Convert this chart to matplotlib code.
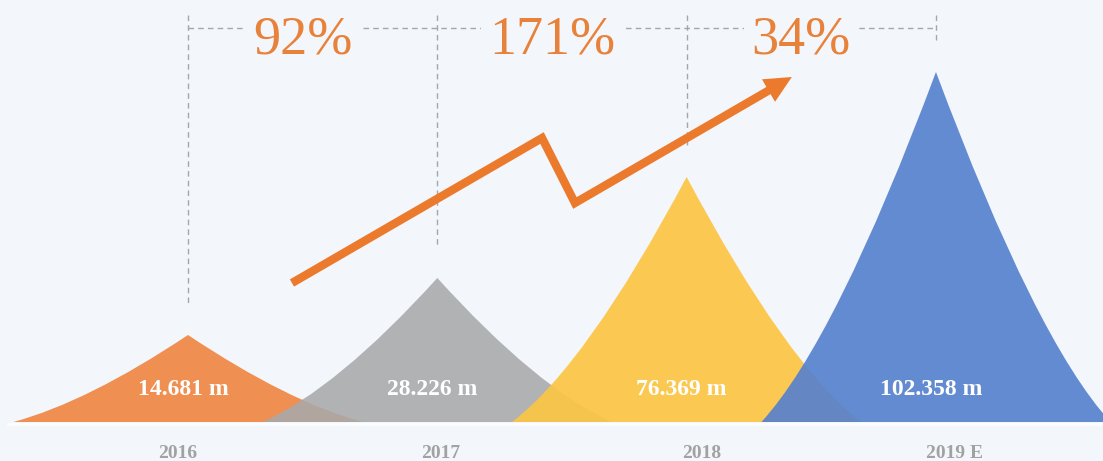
import matplotlib.pyplot as plt
from matplotlib.path import Path
from matplotlib.patches import PathPatch, Polygon
import numpy as np

# datos
years = ['2016', '2017', '2018', '2019 E']
values = [14.681, 28.226, 76.369, 102.358]
# alturas de los picos tal como se ven en el dibujo (no proporcionales)
peak_height = [87, 144, 245, 350]
colors = ['#EF8F52', '#A8A9AB', '#FCC643', '#5782CE']
alphas = [1.0, 0.88, 0.92, 0.92]

bg = '#F3F6FB'
orange_txt = '#E8823A'
orange_arrow = '#EC7A2C'
dash_col = '#A3A7AD'

fig = plt.figure(figsize=(11.03, 4.61), dpi=100)
fig.patch.set_facecolor(bg)
ax = fig.add_axes([0, 0, 1, 1])
ax.set_facecolor(bg)
ax.set_xlim(-0.754, 3.670)
ax.set_ylim(-39, 422)
ax.axis('off')

x = np.arange(len(years))
w = 0.70  # media anchura del pico

# picos con lados curvos (bezier cuadratica)
for i in range(len(years)):
    h = peak_height[i]
    cx, cy = 0.573 * w, 0.233 * h
    verts = [(x[i] - w, 0), (x[i] - cx, cy), (x[i], h),
             (x[i] + cx, cy), (x[i] + w, 0), (x[i] - w, 0)]
    codes = [Path.MOVETO, Path.CURVE3, Path.CURVE3,
             Path.CURVE3, Path.CURVE3, Path.CLOSEPOLY]
    ax.add_patch(PathPatch(Path(verts, codes), facecolor=colors[i],
                           edgecolor='none', alpha=alphas[i], zorder=2 + i))
    ax.text(x[i] - 0.02, 33, f'{values[i]} m', ha='center', va='center',
            color='white', fontsize=17, fontweight='bold',
            family='Liberation Serif', zorder=10)

# linea base clara
ax.plot([-0.72, 3.7], [-2, -2], color='white', lw=2, alpha=0.8, zorder=1)

# etiquetas de años
year_dx = [-0.04, 0.015, 0.06, 0.075]
for i in range(len(years)):
    ax.text(x[i] + year_dx[i], -31, years[i], ha='center', va='center',
            color='#A2A2A2', fontsize=14, fontweight='bold',
            family='Liberation Serif')

# lineas discontinuas
top_y = 394
for i in range(len(years)):
    ax.plot([x[i], x[i]], [407, peak_height[i] + 32], color=dash_col,
            lw=1, ls=(0, (4, 3)), zorder=1)
ax.plot([x[0], x[-1]], [top_y, top_y], color=dash_col, lw=1,
        ls=(0, (4, 3)), zorder=1)

# crecimiento interanual
for i in range(1, len(values)):
    pct = (values[i] / values[i - 1] - 1) * 100
    ax.text(x[i] - 0.54, 382, f'{pct:.0f}%', ha='center', va='center',
            color=orange_txt, fontsize=39, family='Liberation Serif',
            bbox=dict(boxstyle='square,pad=0.15', fc=bg, ec='none'),
            zorder=5)

# flecha en zigzag
arrow_x = [0.417, 1.420, 1.552, 2.422]
arrow_y = [139, 284, 219, 345]
disp = ax.transData.transform(np.column_stack([arrow_x, arrow_y]))
tip = disp[-1]
d = tip - disp[-2]
u = d / np.hypot(*d)
n = np.array([-u[1], u[0]])
head_len, head_w = 27, 13
base = tip - head_len * u
head = np.array([tip, base + head_w * n, base - head_w * n])
inv = ax.transData.inverted()
line_pts = np.vstack([disp[:-1], base + 3 * u])
line_pts = inv.transform(line_pts)
ax.plot(line_pts[:, 0], line_pts[:, 1], color=orange_arrow, lw=6,
        solid_joinstyle='miter', solid_capstyle='butt', zorder=8)
ax.add_patch(Polygon(inv.transform(head), closed=True, fc=orange_arrow,
                     ec='none', zorder=8))

fig.savefig('out.png', dpi=100, facecolor=bg)
